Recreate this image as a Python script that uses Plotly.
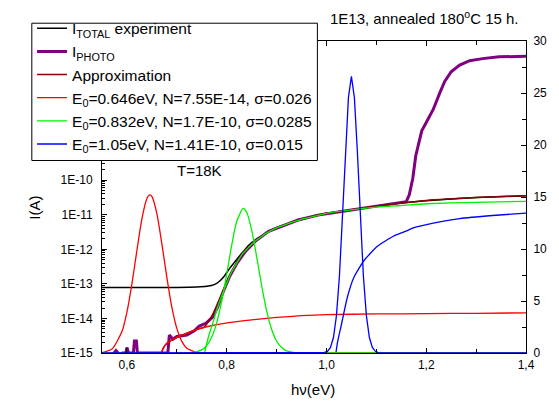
import plotly.graph_objects as go

# Photon energy (eV) and measured / fitted currents (A) at T = 18 K
energy_total = [0.55, 0.60, 0.65, 0.70, 0.74, 0.76, 0.775, 0.785, 0.795, 0.805, 0.818,
                0.831, 0.844, 0.86, 0.90, 0.95, 1.00, 1.05, 1.10, 1.15, 1.20, 1.30, 1.40]
current_total = [7.9e-14, 7.9e-14, 7.9e-14, 7.9e-14, 8.1e-14, 8.5e-14, 9.5e-14, 1.17e-13,
                 1.66e-13, 2.69e-13, 4.68e-13, 7.94e-13, 1.32e-12, 2.0e-12, 4.27e-12,
                 7.24e-12, 1.10e-11, 1.38e-11, 1.78e-11, 2.19e-11, 2.57e-11, 3.16e-11, 3.55e-11]

energy_photo = [0.565, 0.574, 0.578, 0.582, 0.586, 0.592, 0.598, 0.600, 0.603, 0.613, 0.615,
                0.619, 0.621, 0.682, 0.685, 0.692, 0.700, 0.720, 0.735, 0.745, 0.758, 0.772,
                0.782, 0.791, 0.805, 0.821, 0.838, 0.857, 0.884, 0.917, 0.943, 0.983, 1.022,
                1.050, 1.100, 1.150, 1.160, 1.166, 1.173, 1.179, 1.191, 1.200, 1.214, 1.227,
                1.237, 1.250, 1.267, 1.287, 1.313, 1.346, 1.400]
current_photo = [4e-16, 1.0e-15, 1.17e-15, 1.0e-15, 4e-16, 1.0e-15, 1.0e-15, 1.45e-15, 1.0e-15,
                 1.0e-15, 2.24e-15, 2.24e-15, 1.0e-15, 1.0e-15, 3.31e-15, 2.51e-15, 3.02e-15,
                 3.31e-15, 4.37e-15, 6.03e-15, 7.24e-15, 1.10e-14, 2.14e-14, 5.01e-14, 1.55e-13,
                 4.07e-13, 8.91e-13, 1.70e-12, 3.31e-12, 5.13e-12, 7.08e-12, 9.77e-12, 1.23e-11,
                 1.38e-11, 1.78e-11, 2.19e-11, 2.40e-11, 3.80e-11, 1.12e-10, 5.13e-10, 2.69e-9,
                 4.68e-9, 1.12e-8, 3.31e-8, 7.24e-8, 1.38e-7, 2.14e-7, 2.88e-7, 3.31e-7,
                 3.72e-7, 3.89e-7]

energy_approx = [0.668, 0.672, 0.680, 0.690, 0.700, 0.720, 0.740, 0.755, 0.765, 0.772, 0.780,
                 0.790, 0.800, 0.810, 0.820, 0.830, 0.840, 0.850, 0.860, 0.880, 0.900, 0.920,
                 0.950, 0.980, 1.000, 1.050, 1.100, 1.150, 1.200, 1.300, 1.400]
current_approx = [7.9e-16, 1.32e-15, 1.91e-15, 2.40e-15, 2.82e-15, 3.72e-15, 4.79e-15, 5.62e-15,
                  8.91e-15, 1.32e-14, 2.4e-14, 5.1e-14, 1.12e-13, 2.31e-13, 4.05e-13, 7.0e-13,
                  1.0e-12, 1.41e-12, 1.86e-12, 2.95e-12, 4.17e-12, 5.37e-12, 7.41e-12, 9.33e-12,
                  1.10e-11, 1.39e-11, 1.78e-11, 2.18e-11, 2.60e-11, 3.16e-11, 3.57e-11]

# Contributions of the three levels (left axis)
energy_lvl1 = [0.668, 0.672, 0.68, 0.69, 0.70, 0.72, 0.74, 0.76, 0.795, 0.85, 0.90, 0.95,
               1.0, 1.1, 1.2, 1.3, 1.4]
current_lvl1 = [7.9e-16, 1.32e-15, 1.91e-15, 2.40e-15, 2.82e-15, 3.72e-15, 4.79e-15, 5.75e-15,
                7.24e-15, 9.12e-15, 1.07e-14, 1.20e-14, 1.29e-14, 1.35e-14, 1.38e-14,
                1.41e-14, 1.45e-14]

energy_lvl2 = [0.754, 0.758, 0.765, 0.772, 0.78, 0.79, 0.80, 0.81, 0.82, 0.83, 0.84, 0.85,
               0.86, 0.88, 0.90, 0.92, 0.95, 0.98, 1.0, 1.05, 1.1, 1.15, 1.2, 1.3, 1.4]
current_lvl2 = [7.9e-16, 1.41e-15, 3.55e-15, 7.24e-15, 1.78e-14, 4.47e-14, 1.05e-13, 2.24e-13,
                3.98e-13, 6.92e-13, 1.0e-12, 1.41e-12, 1.86e-12, 2.95e-12, 4.17e-12, 5.37e-12,
                7.41e-12, 9.33e-12, 1.10e-11, 1.38e-11, 1.66e-11, 1.86e-11, 2.09e-11,
                2.29e-11, 2.45e-11]

energy_lvl3 = [1.018, 1.022, 1.029, 1.042, 1.055, 1.075, 1.102, 1.134, 1.158, 1.174, 1.214,
               1.267, 1.333, 1.40]
current_lvl3 = [7.9e-16, 2.0e-15, 5.75e-15, 4.17e-14, 1.55e-13, 4.68e-13, 1.23e-12, 2.40e-12,
                3.31e-12, 4.17e-12, 5.75e-12, 7.76e-12, 9.55e-12, 1.12e-11]

# Gaussian level distributions (right axis)
energy_g1 = [0.55, 0.57, 0.59, 0.60, 0.61, 0.62, 0.63, 0.64, 0.646, 0.65, 0.66, 0.67, 0.68,
             0.69, 0.70, 0.71, 0.72, 0.74, 0.76, 1.40]
dist_g1 = [0.04, 0.38, 2.06, 3.94, 6.65, 9.88, 12.9, 14.85, 15.2, 15.05, 13.4, 10.5, 7.28,
           4.42, 2.37, 1.12, 0.46, 0.05, 0.0, 0.0]

energy_g2 = [0.55, 0.73, 0.75, 0.76, 0.77, 0.78, 0.79, 0.80, 0.81, 0.82, 0.833, 0.84, 0.85,
             0.86, 0.87, 0.88, 0.89, 0.90, 0.91, 0.92, 0.94, 0.96, 1.40]
dist_g2 = [0.0, 0.04, 0.30, 0.72, 1.53, 2.92, 4.98, 7.59, 10.36, 12.65, 13.9, 13.53, 11.84,
           9.27, 6.50, 4.07, 2.29, 1.15, 0.52, 0.21, 0.02, 0.0, 0.0]

energy_g3 = [0.55, 0.996, 1.002, 1.008, 1.014, 1.020, 1.026, 1.032, 1.038, 1.044, 1.050,
             1.056, 1.062, 1.068, 1.074, 1.080, 1.086, 1.092, 1.098, 1.104, 1.11, 1.40]
dist_g3 = [0.0, 0.05, 0.16, 0.53, 1.49, 3.60, 7.40, 12.95, 19.3, 24.55, 26.6, 24.55, 19.3,
           12.95, 7.40, 3.60, 1.49, 0.53, 0.16, 0.04, 0.0, 0.0]

label_total = "I<sub>TOTAL</sub> experiment"
label_photo = "I<sub>PHOTO</sub>"
label_approx = "Approximation"
label_lvl1 = "E<sub>0</sub>=0.646eV, N=7.55E-14, σ=0.026"
label_lvl2 = "E<sub>0</sub>=0.832eV, N=1.7E-10, σ=0.0285"
label_lvl3 = "E<sub>0</sub>=1.05eV, N=1.41E-10, σ=0.015"

FONT = "Liberation Sans, Arial, sans-serif"
RED, GREEN, BLUE = "#ff0000", "#00f000", "#0000ff"

fig = go.Figure()
fig.add_trace(go.Scatter(x=energy_total, y=current_total, name=label_total, legendgroup="tot",
                         mode="lines",
                         line=dict(color="#000000", width=1.5, shape="spline", smoothing=0.5)))
fig.add_trace(go.Scatter(x=energy_photo, y=current_photo, name=label_photo, legendgroup="ph",
                         mode="lines", line=dict(color="#800080", width=3)))
fig.add_trace(go.Scatter(x=energy_approx, y=current_approx, name=label_approx,
                         legendgroup="apx", mode="lines",
                         line=dict(color="#8b0000", width=1.5, shape="spline", smoothing=0.5)))
for ex, cy, col, lab, grp in [(energy_lvl1, current_lvl1, RED, label_lvl1, "l1"),
                              (energy_lvl2, current_lvl2, GREEN, label_lvl2, "l2"),
                              (energy_lvl3, current_lvl3, BLUE, label_lvl3, "l3")]:
    fig.add_trace(go.Scatter(x=ex, y=cy, name=lab, legendgroup=grp, mode="lines",
                             line=dict(color=col, width=1.3, shape="spline", smoothing=0.5)))

for ex, dy, col, grp, shp in [(energy_g1, dist_g1, RED, "l1", "spline"),
                              (energy_g2, dist_g2, GREEN, "l2", "spline"),
                              (energy_g3, dist_g3, BLUE, "l3", "linear")]:
    fig.add_trace(go.Scatter(x=ex, y=dy, yaxis="y2", legendgroup=grp, showlegend=False,
                             mode="lines", line=dict(color=col, width=1.3, shape=shp,
                                                     smoothing=0.6)))

# Labelled decades below the legend frame, log minor ticks in every decade
log_major = [10.0 ** e for e in range(-15, -9)]
log_major_text = ["1E%d" % e for e in range(-15, -9)]
log_minor = [m * 10.0 ** e for e in range(-15, -6) for m in range(2, 10)]

fig.update_layout(
    width=559, height=401,
    margin=dict(l=102, r=28, t=37, b=48),
    paper_bgcolor="white", plot_bgcolor="white",
    separators=",.",
    font=dict(family=FONT, size=12, color="#000000"),
    showlegend=True,
    legend=dict(x=-0.165, y=1.094, xanchor="left", yanchor="top",
                bgcolor="rgba(0,0,0,0)", borderwidth=0,
                font=dict(family=FONT, size=15.5), tracegroupgap=0),
    # white legend frame
    shapes=[dict(type="rect", xref="paper", yref="paper", layer="above",
                 x0=-0.1655, x1=0.508, y0=0.617, y1=1.057,
                 fillcolor="white", line=dict(color="#000000", width=1))],
    xaxis=dict(range=[0.55, 1.4], tick0=0.6, dtick=0.2, tickformat=".1f",
               ticks="inside", ticklen=5, tickcolor="#000000",
               showline=True, linecolor="#000000", linewidth=1, mirror="ticks",
               showgrid=False, zeroline=False, ticklabelstandoff=1,
               minor=dict(dtick=0.1, tick0=0.6, ticks="inside", ticklen=4,
                          tickcolor="#000000", showgrid=False)),
    yaxis=dict(type="log", range=[-15, -5.97], tickmode="array",
               tickvals=log_major, ticktext=log_major_text,
               ticks="inside", ticklen=5, tickcolor="#000000",
               showline=True, linecolor="#000000", linewidth=1,
               showgrid=False, zeroline=False, ticklabelstandoff=6,
               minor=dict(tickmode="array", tickvals=log_minor, ticks="inside",
                          ticklen=3, tickcolor="#000000", showgrid=False)),
    yaxis2=dict(overlaying="y", side="right", range=[0, 30], dtick=5,
                ticks="inside", ticklen=5, tickcolor="#000000",
                showline=True, linecolor="#000000", linewidth=1,
                showgrid=False, zeroline=False, ticklabelstandoff=4,
                minor=dict(dtick=2.5, ticks="inside", ticklen=4,
                           tickcolor="#000000", showgrid=False)),
    annotations=[
        dict(text="1E13, annealed 180<sup>o</sup>C 15 h.", xref="paper", yref="paper",
             x=0.761, y=1.074, xanchor="center", yanchor="middle", showarrow=False,
             font=dict(family=FONT, size=15)),
        dict(text="T=18K", xref="paper", yref="paper", x=0.231, y=0.586,
             xanchor="center", yanchor="middle", showarrow=False,
             font=dict(family=FONT, size=15)),
        dict(text="I(A)", xref="paper", yref="paper", x=-0.16, y=0.466, textangle=-90,
             xanchor="center", yanchor="middle", showarrow=False,
             font=dict(family=FONT, size=15)),
        dict(text="hν(eV)", xref="paper", yref="paper", x=0.497, y=-0.116,
             xanchor="center", yanchor="middle", showarrow=False,
             font=dict(family=FONT, size=15)),
    ],
)

fig.write_html("out.html")
